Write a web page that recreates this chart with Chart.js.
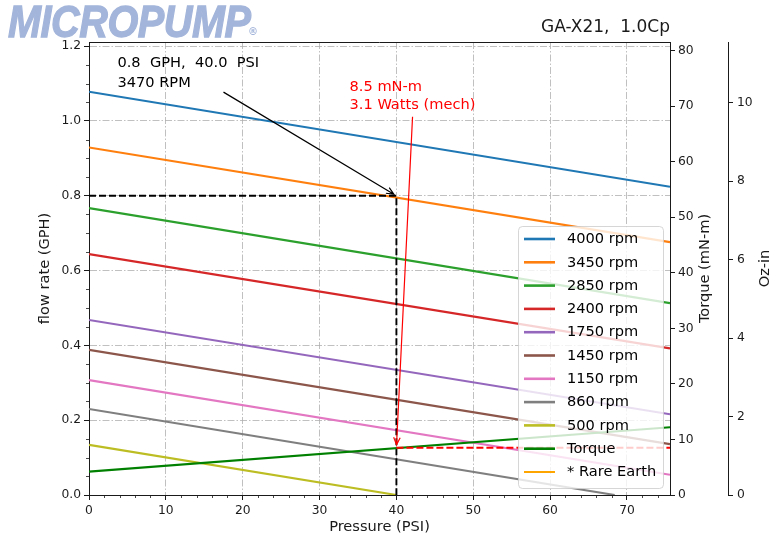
<!DOCTYPE html>
<html>
<head>
<meta charset="utf-8">
<title>GA-X21 pump curve</title>
<script src="https://cdn.jsdelivr.net/npm/chart.js@4.4.0/dist/chart.umd.min.js"></script>
<style>
  html, body { margin: 0; padding: 0; background: #fff; }
  #wrap { position: relative; width: 771px; height: 542px; overflow: hidden; }
  #logo {
    position: absolute; left: 8px; top: -1px;
    font: italic bold 45px/45px "Liberation Sans", Arial, sans-serif;
    letter-spacing: -0.5px; color: #a3b5da; -webkit-text-stroke: 1.3px #a3b5da;
    transform: scaleX(0.88); transform-origin: left top; white-space: nowrap;
  }
  #reg { position: absolute; left: 248px; top: 26px; font: bold 10px "DejaVu Sans", sans-serif; color: #a3b5da; }
</style>
</head>
<body>
<div id="wrap">
  <canvas id="pump-chart" width="771" height="542"></canvas>
  <div id="logo">MICROPUMP</div>
  <div id="reg">®</div>
</div>
<script>
// flow (GPH) read at pressure 0 and at the right edge of the plot
const pressureEnds = [0, 75.6];
const rpmLabels = ['4000 rpm', '3450 rpm', '2850 rpm', '2400 rpm', '1750 rpm', '1450 rpm', '1150 rpm', '860 rpm', '500 rpm'];
const flow4000 = [1.078, 0.824];
const flow3450 = [0.929, 0.676];
const flow2850 = [0.767, 0.513];
const flow2400 = [0.644, 0.392];
const flow1750 = [0.468, 0.216];
const flow1450 = [0.388, 0.136];
const flow1150 = [0.307, 0.054];
const flow860 = [0.230, 0.0];
const pressure860 = [0, 68.4];
const flow500 = [0.134, 0.0];
const pressure500 = [0, 40];

// torque (mN-m) vs pressure
const torquePressure = [0, 75.6];
const torqueValues = [4.2, 12.2];

// operating point
const opPressure = 40.0;
const opFlow = 0.8;
const opTorque = 8.5;
const opText = ['0.8  GPH,  40.0  PSI', '3470 RPM'];
const torqueText = ['8.5 mN-m', '3.1 Watts (mech)'];

// axis ranges
const pressureMax = 75.6;
const flowMax = 1.211;
const torqueMax = 81.56;
const mNmPerOzIn = 7.0616;

const rpmColors = ['#1f77b4', '#ff7f0e', '#2ca02c', '#d62728', '#9467bd', '#8c564b', '#e377c2', '#7f7f7f', '#bcbd22'];
const ink = '#1a1a1a';
Chart.defaults.font.family = '"DejaVu Sans", sans-serif';

function pts(xs, ys) {
  return xs.map((x, i) => ({ x: x, y: ys[i] }));
}

const rpmFlows = [flow4000, flow3450, flow2850, flow2400, flow1750, flow1450, flow1150, flow860, flow500];
const rpmPressures = [pressureEnds, pressureEnds, pressureEnds, pressureEnds, pressureEnds, pressureEnds, pressureEnds, pressure860, pressure500];

const datasets = rpmLabels.map((lab, i) => ({
  label: lab,
  data: pts(rpmPressures[i], rpmFlows[i]),
  borderColor: rpmColors[i],
  borderWidth: 2.1,
  yAxisID: 'y',
  inLegend: true,
}));
datasets.push({
  label: 'op point',
  data: [{ x: 0, y: opFlow }, { x: opPressure, y: opFlow }, { x: opPressure, y: 0 }],
  borderColor: '#000',
  borderWidth: 1.9,
  borderDash: [7, 3],
  yAxisID: 'y',
});
datasets.push({
  label: 'Torque',
  data: pts(torquePressure, torqueValues),
  borderColor: '#008000',
  borderWidth: 2.1,
  yAxisID: 'y1',
  inLegend: true,
});
datasets.push({
  label: 'op torque',
  data: [{ x: opPressure, y: opTorque }, { x: pressureMax, y: opTorque }],
  borderColor: '#ff0000',
  borderWidth: 1.9,
  borderDash: [7, 3],
  yAxisID: 'y1',
});
datasets.push({
  label: '* Rare Earth',
  data: [],
  borderColor: '#ffa500',
  borderWidth: 1.5,
  yAxisID: 'y',
  inLegend: true,
});
// later datasets on top, like matplotlib
datasets.forEach((d, i) => {
  d.order = 100 - i;
  d.pointRadius = 0;
  d.tension = 0;
  d.fill = false;
});

// minor ticks, top spine and right-hand axis titles
const axisExtras = {
  id: 'axisExtras',
  afterDraw(chart) {
    const { ctx, chartArea } = chart;
    const sx = chart.scales.x, sy = chart.scales.y, s1 = chart.scales.y1, s2 = chart.scales.y2;
    ctx.save();
    ctx.strokeStyle = ink;
    ctx.lineWidth = 0.8;
    ctx.beginPath();
    for (let v = 2; v < pressureMax; v += 2) {
      if (v % 10 === 0) continue;
      const px = Math.round(sx.getPixelForValue(v)) + 0.5;
      ctx.moveTo(px, chartArea.bottom);
      ctx.lineTo(px, chartArea.bottom + 3);
    }
    for (let k = 1; k * 0.05 < flowMax; k++) {
      if (k % 4 === 0) continue;
      const py = Math.round(sy.getPixelForValue(k * 0.05)) + 0.5;
      ctx.moveTo(chartArea.left, py);
      ctx.lineTo(chartArea.left - 3, py);
    }
    ctx.stroke();
    ctx.lineWidth = 1;
    ctx.beginPath();
    ctx.moveTo(chartArea.left, chartArea.top + 0.5);
    ctx.lineTo(chartArea.right, chartArea.top + 0.5);
    ctx.stroke();

    ctx.fillStyle = ink;
    ctx.font = '14.6px "DejaVu Sans"';
    ctx.textAlign = 'center';
    ctx.textBaseline = 'alphabetic';
    const cy = (chartArea.top + chartArea.bottom) / 2;
    [[s1.left + 39, 'Torque (mN-m)'], [s2.left + 41, 'Oz-in']].forEach(([bx, t]) => {
      ctx.save();
      ctx.translate(bx, cy);
      ctx.rotate(-Math.PI / 2);
      ctx.fillText(t, 0, 0);
      ctx.restore();
    });
    ctx.restore();
  }
};

// matplotlib-like legend box in the lower right corner
const boxLegend = {
  id: 'boxLegend',
  afterDatasetsDraw(chart) {
    const { ctx, chartArea } = chart;
    const items = chart.data.datasets.filter(d => d.inLegend);
    const w = 145, h = 262;
    const x0 = chartArea.right - 7 - w, y0 = chartArea.bottom - 7 - h;
    ctx.save();
    ctx.beginPath();
    ctx.roundRect(x0 + 0.5, y0 + 0.5, w, h, 4);
    ctx.fillStyle = 'rgba(255,255,255,0.8)';
    ctx.fill();
    ctx.strokeStyle = 'rgba(204,204,204,0.8)';
    ctx.lineWidth = 1;
    ctx.stroke();
    ctx.font = '14.6px "DejaVu Sans"';
    ctx.textBaseline = 'middle';
    ctx.textAlign = 'left';
    items.forEach((d, i) => {
      const y = y0 + 13 + i * 23.3;
      ctx.strokeStyle = d.borderColor;
      ctx.lineWidth = d.borderWidth + 0.5;
      ctx.beginPath();
      ctx.moveTo(x0 + 6, y);
      ctx.lineTo(x0 + 37, y);
      ctx.stroke();
      ctx.fillStyle = '#000';
      ctx.fillText(d.label, x0 + 49, y + 0.5);
    });
    ctx.restore();
  }
};

function drawArrow(ctx, x1, y1, x2, y2, color) {
  const a = Math.atan2(y2 - y1, x2 - x1);
  x2 -= Math.cos(a) * 3;
  y2 -= Math.sin(a) * 3;
  ctx.strokeStyle = color;
  ctx.lineWidth = 1.2;
  ctx.beginPath();
  ctx.moveTo(x1, y1);
  ctx.lineTo(x2, y2);
  ctx.moveTo(x2 - 8 * Math.cos(a - 0.42), y2 - 8 * Math.sin(a - 0.42));
  ctx.lineTo(x2, y2);
  ctx.lineTo(x2 - 8 * Math.cos(a + 0.42), y2 - 8 * Math.sin(a + 0.42));
  ctx.stroke();
}

// operating-point annotations
const notes = {
  id: 'notes',
  afterDraw(chart) {
    const { ctx } = chart;
    const sx = chart.scales.x, sy = chart.scales.y, s1 = chart.scales.y1;
    ctx.save();
    ctx.font = '14.6px "DejaVu Sans"';
    ctx.textAlign = 'left';
    ctx.textBaseline = 'alphabetic';

    ctx.fillStyle = '#000';
    const tx = sx.getPixelForValue(3.7), ty = sy.getPixelForValue(1.1436);
    opText.forEach((t, i) => ctx.fillText(t, tx, ty + i * 19.4));
    drawArrow(ctx, sx.getPixelForValue(17.5), sy.getPixelForValue(1.077),
      sx.getPixelForValue(opPressure), sy.getPixelForValue(opFlow), '#000');

    ctx.fillStyle = '#ff0000';
    const rx = sx.getPixelForValue(33.9), ry = sy.getPixelForValue(1.081);
    torqueText.forEach((t, i) => ctx.fillText(t, rx, ry + i * 18.6));
    drawArrow(ctx, sx.getPixelForValue(42.1), sy.getPixelForValue(1.011),
      sx.getPixelForValue(opPressure), s1.getPixelForValue(opTorque), '#ff0000');
    ctx.restore();
  }
};

const gridDash = [7, 2, 1.5, 2];

new Chart(document.getElementById('pump-chart'), {
  type: 'line',
  data: { datasets: datasets },
  options: {
    responsive: false,
    devicePixelRatio: 1,
    animation: false,
    layout: { padding: 0 },
    plugins: {
      legend: { display: false },
      tooltip: { enabled: false },
      title: {
        display: true,
        text: 'GA-X21,  1.0Cp',
        align: 'end',
        fullSize: false,
        color: ink,
        font: { size: 17, weight: 'normal' },
        padding: { top: 17.6, bottom: 4 },
      },
    },
    scales: {
      x: {
        type: 'linear',
        position: 'bottom',
        min: 0,
        max: pressureMax,
        ticks: { stepSize: 10, includeBounds: false, padding: 3, color: ink, font: { size: 12.3 }, maxRotation: 0 },
        grid: { color: '#b0b0b0', lineWidth: 0.8, tickLength: 5, tickColor: ink, tickWidth: 1, tickBorderDash: [] },
        border: { color: ink, width: 1, dash: gridDash },
        title: { display: true, text: 'Pressure (PSI)', color: ink, font: { size: 14.6 }, padding: { top: 0, bottom: 6 } },
        afterFit: s => { s.height = 47; },
      },
      y: {
        type: 'linear',
        position: 'left',
        min: 0,
        max: flowMax,
        ticks: { stepSize: 0.2, includeBounds: false, padding: 3, color: ink, font: { size: 12.3 }, callback: v => v.toFixed(1) },
        grid: { color: '#b0b0b0', lineWidth: 0.8, tickLength: 5, tickColor: ink, tickWidth: 1, tickBorderDash: [] },
        border: { color: ink, width: 1, dash: gridDash },
        title: { display: true, text: 'flow rate (GPH)', color: ink, font: { size: 14.6 }, padding: { top: 36, bottom: 0 } },
        afterFit: s => { s.width = 89; },
      },
      y1: {
        type: 'linear',
        position: 'right',
        weight: 0,
        min: 0,
        max: torqueMax,
        ticks: { stepSize: 10, includeBounds: false, padding: 3, color: ink, font: { size: 12.3 } },
        grid: { drawOnChartArea: false, tickLength: 5, tickColor: ink, tickWidth: 1 },
        border: { color: ink, width: 1 },
        afterFit: s => { s.width = 58; },
      },
      y2: {
        type: 'linear',
        position: 'right',
        weight: 1,
        min: 0,
        max: torqueMax / mNmPerOzIn,
        ticks: { stepSize: 2, includeBounds: false, padding: 4, color: ink, font: { size: 12.3 } },
        grid: { drawOnChartArea: false, tickLength: 5, tickColor: ink, tickWidth: 1 },
        border: { color: ink, width: 1 },
        afterFit: s => { s.width = 43; },
      },
    },
  },
  plugins: [boxLegend, axisExtras, notes],
});
</script>
</body>
</html>
